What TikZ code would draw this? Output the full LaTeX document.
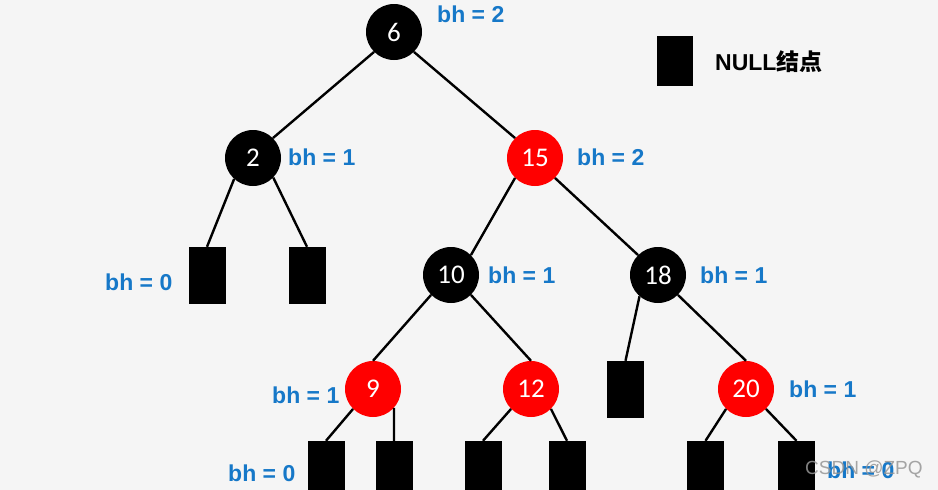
\documentclass[tikz,border=0pt]{standalone}
\usepackage{fontspec}
\setmainfont{Liberation Sans}
\newfontfamily\cjk{Noto Sans CJK SC}
\newfontfamily\numfont{Carlito}
\usetikzlibrary{positioning}
\definecolor{bhblue}{RGB}{22,120,200}
\definecolor{rbred}{RGB}{255,0,0}
\definecolor{bggray}{RGB}{245,245,245}
\definecolor{wmgray}{RGB}{150,150,150}

\begin{document}
\begin{tikzpicture}[x=1pt, y=-1pt,
  rbn/.style={circle, minimum size=56pt, inner sep=0pt, text=white, font=\numfont\fontsize{27}{27}\selectfont},
  blk/.style={rbn, fill=black},
  rdn/.style={rbn, fill=rbred},
  nil/.style={fill=black, minimum width=37pt, minimum height=57pt, inner sep=0pt},
  bh/.style={text=bhblue, font=\bfseries\fontsize{23}{23}\selectfont, inner sep=0pt, anchor=west},
  lnk/.style={line width=2.4pt},
]
  \fill[bggray] (0,0) rectangle (938,490);
  \clip (0,0) rectangle (938,490);

  % tree nodes
  \node[blk] (n6)  at (394,32)  {6};
  \node[blk] (n2)  at (253,158) {2};
  \node[rdn] (n15) at (535,158) {15};
  \node[blk] (n10) at (451,275) {10};
  \node[blk] (n18) at (658,275) {18};
  \node[rdn] (n9)  at (373,389) {9};
  \node[rdn] (n12) at (531,389) {12};
  \node[rdn] (n20) at (746,389) {20};

  % NULL leaves
  \node[nil] (b2l)  at (207,275.5) {};
  \node[nil] (b2r)  at (307,275.5) {};
  \node[nil] (b18)  at (625.5,389.5) {};
  \node[nil] (b9l)  at (326,469.5) {};
  \node[nil] (b9r)  at (394,469.5) {};
  \node[nil] (b12l) at (483,469.5) {};
  \node[nil] (b12r) at (567,469.5) {};
  \node[nil] (b20l) at (705.5,469.5) {};
  \node[nil] (b20r) at (796.5,469.5) {};

  % links
  \draw[lnk] (n6.-135) -- (n2.45);
  \draw[lnk] (n6.-45) -- (n15.135);
  \draw[lnk] (n2.-132) -- (b2l.north);
  \draw[lnk] (n2.-44) -- (b2r.north);
  \draw[lnk] (n15.-135) -- (n10.45);
  \draw[lnk] (n15.-45) -- (n18.135);
  \draw[lnk] (n10.-135) -- (n9.north);
  \draw[lnk] (n10.-45) -- (n12.north);
  \draw[lnk] (n18.-131) -- (b18.north);
  \draw[lnk] (n18.-45) -- (n20.north);
  \draw[lnk] (n9.-135) -- (b9l.north);
  \draw[lnk] (n9.-42) -- (b9r.north);
  \draw[lnk] (n12.-135) -- (b12l.north);
  \draw[lnk] (n12.-45) -- (b12r.north);
  \draw[lnk] (n20.-135) -- (b20l.north);
  \draw[lnk] (n20.-45) -- (b20r.north);

  % black heights
  \node[bh] (h6)  at (437,14)  {bh = 2};
  \node[bh] (h2)  at (288,157) {bh = 1};
  \node[bh] (h15) at (577,157) {bh = 2};
  \node[bh] (h2l) at (105,282) {bh = 0};
  \node[bh] (h10) at (488,275) {bh = 1};
  \node[bh] (h18) at (700,275) {bh = 1};
  \node[bh] (h9)  at (272,395) {bh = 1};
  \node[bh] (h20) at (789,389) {bh = 1};
  \node[bh] (h9l) at (228,473) {bh = 0};
  \node[bh] (h20r) at (827,470) {bh = 0};

  % legend
  \node[nil, minimum width=36pt, minimum height=50pt] (leg) at (675,61) {};
  \node[anchor=west, inner sep=0pt, font=\bfseries\fontsize{23}{23}\selectfont] (legt) at (715,62) {NULL{\cjk\bfseries 结点}};

  \node[anchor=west, inner sep=0pt, text=wmgray, opacity=0.85, font=\fontsize{19}{19}\selectfont] (wm) at (805,469) {CSDN @ZPQ};
\end{tikzpicture}
\end{document}
